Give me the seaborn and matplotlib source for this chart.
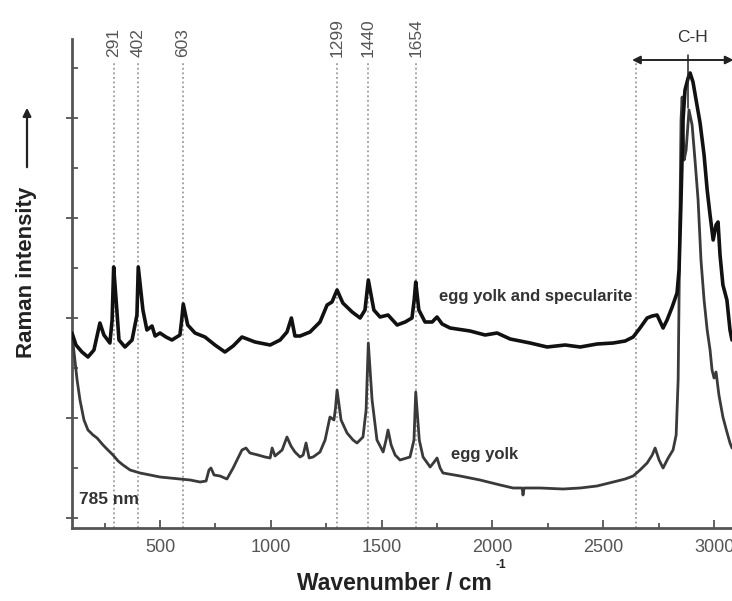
import numpy as np
import pandas as pd
import seaborn as sns
import matplotlib
matplotlib.use("Agg")
import matplotlib.pyplot as plt
from matplotlib.ticker import MultipleLocator

# ---------------- data ----------------
spec_x = [103, 121, 148, 175, 202, 229, 247, 274, 284, 291, 302, 315, 342, 374, 396, 402, 423, 441,
          464, 478, 500, 527, 554, 590, 598, 605, 625, 658, 703, 748, 793, 830, 870, 929, 997, 1042,
          1073, 1093, 1109, 1132, 1177, 1222, 1254, 1276, 1299, 1325, 1367, 1403, 1425, 1440, 1465,
          1493, 1529, 1570, 1606, 1637, 1647, 1654, 1668, 1696, 1728, 1750, 1773, 1809, 1899, 1967,
          2021, 2080, 2170, 2247, 2328, 2396, 2472, 2545, 2599, 2635, 2666, 2698, 2721, 2743, 2770,
          2788, 2811, 2833, 2842, 2851, 2860, 2869, 2883, 2892, 2905, 2919, 2937, 2955, 2969, 2982,
          2996, 3009, 3018, 3027, 3040, 3058, 3072, 3081]
spec_y = [185, 173, 166, 161, 168, 195, 183, 175, 198, 251, 218, 178, 171, 178, 203, 251, 208, 188,
          192, 182, 185, 181, 178, 183, 198, 214, 193, 185, 181, 173, 166, 172, 181, 176, 173, 178,
          186, 200, 182, 182, 186, 196, 213, 216, 228, 215, 206, 200, 208, 238, 208,
          201, 203, 193, 196, 200, 218, 236, 208, 196, 196, 201, 194, 190, 187, 183,
          185, 179, 175, 171, 173, 171, 174, 175, 177, 181, 190, 200, 202, 203, 190,
          198, 211, 225, 248, 318, 398, 428, 440, 445, 436, 418, 395, 363, 328, 303,
          278, 293, 296, 263, 233, 218, 188, 178]

yolk_x = [103, 112, 126, 139, 157, 175, 198, 216, 243, 265, 288, 311, 333, 365, 410, 455, 500, 545,
          590, 636, 681, 708, 721, 730, 744, 771, 802, 830, 852, 870, 888, 906, 942, 974, 997, 1006,
          1019, 1051, 1073, 1091, 1109, 1132, 1146, 1159, 1173, 1191, 1222, 1245, 1267, 1285, 1292,
          1299, 1317, 1344, 1371, 1389, 1416, 1430, 1440, 1457, 1479, 1507, 1520, 1529, 1543, 1561,
          1583, 1628, 1646, 1654, 1670, 1687, 1719, 1737, 1750, 1764, 1777, 1854, 1944, 2035, 2093,
          2134, 2138, 2143, 2215, 2319, 2396, 2472, 2545, 2599, 2635, 2666, 2698, 2721, 2734, 2752,
          2770, 2793, 2815, 2829, 2838, 2842, 2847, 2851, 2856, 2865, 2874, 2887, 2901, 2914, 2928,
          2941, 2955, 2969, 2982, 2991, 3000, 3009, 3022, 3040, 3058, 3072, 3081]
yolk_y = [183, 166, 138, 118, 98, 88, 83, 80, 73, 68, 63, 57, 53, 48, 45, 43, 41, 40,
          39, 38, 36, 37, 48, 50, 43, 42, 39, 50, 60, 68, 70, 65, 63, 61, 60, 70,
          62, 68, 81, 72, 66, 61, 63, 75, 60, 61, 66, 78, 101, 98, 110,
          128, 98, 85, 78, 75, 81, 108, 175, 118, 78, 66, 78, 88, 73, 63,
          58, 61, 78, 126, 78, 61, 51, 56, 60, 50, 45, 42, 38, 33, 30,
          30, 23, 30, 30, 29, 30, 32, 36, 39, 42, 48, 55, 63, 70, 58,
          50, 60, 68, 83, 138, 218, 318, 398, 421, 358, 368, 408, 393, 358, 318,
          258, 218, 188, 168, 148, 140, 146, 123, 101, 86, 75, 70]

peaks = [291, 402, 603, 1299, 1440, 1654]
peak_labels = ["291", "402", "603", "1299", "1440", "1654"]
ch_start, ch_peak, ch_end = 2650, 2883, 3078
x_ticks = [500, 1000, 1500, 2000, 2500, 3000]

# ---------------- figure ----------------
sns.set_style("ticks")
plt.rcParams['font.family'] = ['Liberation Sans', 'DejaVu Sans']

fig = plt.figure(figsize=(7.32, 6.01), dpi=100)
ax = fig.add_axes([72/732, 1-528/601, 1-72/732, (528-39)/601])

df_spec = pd.DataFrame({"x": spec_x, "y": spec_y})
df_yolk = pd.DataFrame({"x": yolk_x, "y": yolk_y})
sns.lineplot(data=df_yolk, x="x", y="y", ax=ax, sort=False, estimator=None,
             color="#3a3a3a", linewidth=2.0, zorder=3)
sns.lineplot(data=df_spec, x="x", y="y", ax=ax, sort=False, estimator=None,
             color="#111111", linewidth=2.6, zorder=4)

ax.set_xlim(103, 3081)
ax.set_ylim(-10, 479)

# dotted reference lines + labels
for p, lab in zip(peaks, peak_labels):
    ax.plot([p, p], [-10, 456], linestyle=(0, (1.2, 1.8)), color="#8a8a8a", linewidth=1.1, zorder=2)
    ax.text(p, 461, lab, rotation=90, ha="center", va="bottom", fontsize=12.5,
            color="#555555", clip_on=False)
ax.plot([ch_start, ch_start], [-10, 456], linestyle=(0, (1.2, 1.8)), color="#8a8a8a",
        linewidth=1.1, zorder=2)

# C-H arrow
ax.annotate("", xy=(ch_start - 20, 458), xytext=(ch_end + 10, 458),
            arrowprops=dict(arrowstyle="<|-|>", color="#222222", lw=1.4,
                            mutation_scale=12, shrinkA=0, shrinkB=0),
            annotation_clip=False)
ax.plot([ch_peak, ch_peak], [463, 410], color="#222222", linewidth=1.1, zorder=5)
ax.text(ch_peak + 20, 473, "C-H", ha="center", va="bottom", fontsize=12.5, color="#333333",
        clip_on=False)

# curve labels
ax.text(1760, 221, "egg yolk and specularite", fontsize=12, fontweight="bold",
        color="#333333", ha="left", va="center")
ax.text(1815, 63, "egg yolk", fontsize=12, fontweight="bold", color="#333333",
        ha="left", va="center")
ax.text(135, 18, "785 nm", fontsize=12.5, fontweight="bold", color="#333333",
        ha="left", va="center")

# axes styling
for s in ["top", "right"]:
    ax.spines[s].set_visible(False)
for s in ["left", "bottom"]:
    ax.spines[s].set_color("#555555")
    ax.spines[s].set_linewidth(2.0)

ax.set_xticks(x_ticks)
ax.xaxis.set_minor_locator(MultipleLocator(250))
ax.yaxis.set_major_locator(MultipleLocator(100))
ax.yaxis.set_minor_locator(MultipleLocator(50))
ax.set_yticklabels([])
ax.tick_params(axis="x", which="major", direction="in", length=6, width=1.3, color="#555555",
               labelsize=13, labelcolor="#555555", pad=8)
ax.tick_params(axis="x", which="minor", direction="in", length=3.5, width=1.3, color="#555555")
ax.tick_params(axis="y", which="major", direction="inout", length=8, width=1.3, color="#555555",
               labelleft=False)
ax.tick_params(axis="y", which="minor", direction="in", length=4, width=1.3, color="#555555")

ax.set_xlabel("")
ax.set_ylabel("")
fig.text(297/732, 1-583/601, "Wavenumber / cm", ha="left", va="center",
         fontsize=16.5, fontweight="bold", color="#222222")
fig.text(496/732, 1-565/601, "-1", ha="left", va="center",
         fontsize=8.5, fontweight="bold", color="#222222")
fig.text(27/732, 1-272/601, "Raman intensity", rotation=90, ha="center", va="center",
         fontsize=16, fontweight="bold", color="#222222")
fig.patches.append(matplotlib.patches.FancyArrowPatch(
    (27/732, 1-170/601), (27/732, 1-105/601), transform=fig.transFigure,
    arrowstyle="-|>", mutation_scale=12, color="#222222", lw=1.6))

fig.savefig("out.png", dpi=100)
